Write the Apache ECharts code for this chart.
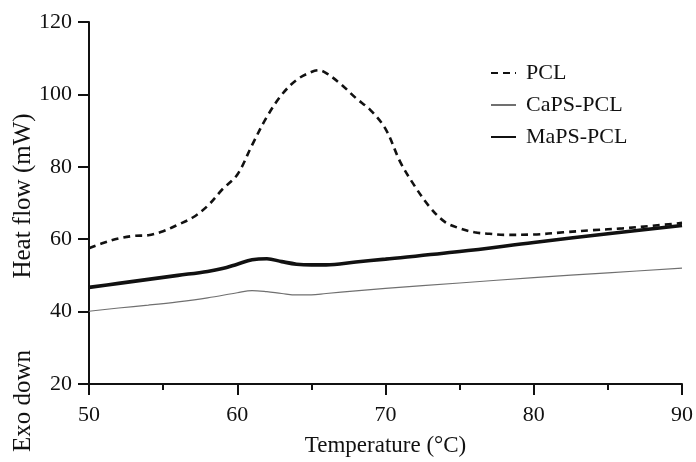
<!DOCTYPE html>
<html>
<head>
<meta charset="utf-8">
<script src="https://cdn.jsdelivr.net/npm/echarts@6/dist/echarts.min.js"></script>
<style>
  html, body { margin: 0; padding: 0; background: #ffffff; }
  #chart { width: 696px; height: 462px; }
</style>
</head>
<body>
<div id="chart"></div>
<script>
// DSC heating curves: heat flow (mW) against temperature (°C)
const pclTemp = [50, 51, 52, 53, 54, 55, 56, 57, 58, 59, 60, 61, 62, 63, 64, 65, 65.5, 66, 67, 68, 69, 70, 71, 72, 73, 74, 75, 76, 77, 78, 80, 82, 84, 86, 88, 90];
const pclFlow = [57.5, 59.0, 60.2, 60.9, 61.1, 62.2, 64.0, 66.0, 69.2, 73.8, 77.8, 86.0, 93.8, 99.9, 104.0, 106.2, 106.7, 105.9, 102.8, 99.0, 95.6, 90.5, 81.3, 74.5, 68.8, 64.8, 63.0, 61.9, 61.5, 61.2, 61.3, 61.9, 62.5, 63.0, 63.7, 64.5];

const capsTemp = [50, 52, 54, 56, 58, 60, 61, 62, 63, 64, 65, 66, 68, 70, 75, 80, 85, 90];
const capsFlow = [40.1, 41.0, 41.8, 42.7, 43.8, 45.2, 45.8, 45.5, 45.0, 44.6, 44.6, 45.0, 45.7, 46.4, 47.9, 49.4, 50.7, 52.0];

const mapsTemp = [50, 52, 54, 56, 58, 59, 60, 61, 62, 63, 64, 65, 66, 68, 70, 75, 80, 85, 90];
const mapsFlow = [46.7, 47.8, 48.9, 50.0, 51.1, 51.9, 53.1, 54.3, 54.6, 53.8, 53.1, 52.9, 52.9, 53.7, 54.5, 56.6, 59.1, 61.5, 63.8];

const seriesNames = ['PCL', 'CaPS-PCL', 'MaPS-PCL'];
const xTicks = { min: 50, max: 90, step: 10 };
const yTicks = { min: 20, max: 120, step: 20 };

const pairs = (xs, ys) => xs.map((x, i) => [x, ys[i]]);

const FONT = 'Liberation Serif';
const INK = '#111111';

const axisCommon = {
  axisLine: { show: true, lineStyle: { color: INK, width: 2 } },
  axisTick: { show: true, inside: false, length: 11, lineStyle: { color: INK, width: 2 } },
  splitLine: { show: false },
  axisLabel: { color: INK, fontFamily: FONT, fontSize: 22 }
};

const chart = echarts.init(document.getElementById('chart'), null, { renderer: 'canvas' });

chart.setOption({
  backgroundColor: '#ffffff',
  animation: false,
  grid: { left: 89, right: 13, top: 22, bottom: 74, containLabel: false },
  legend: {
    orient: 'vertical',
    left: 485,
    top: 57,
    itemWidth: 25,
    itemHeight: 14,
    itemGap: 10,
    data: seriesNames,
    // line-only keys: hide the marker dot
    itemStyle: { opacity: 0 },
    textStyle: { color: INK, fontFamily: FONT, fontSize: 22, padding: [0, 0, 0, 5] }
  },
  xAxis: Object.assign({}, axisCommon, {
    type: 'value',
    min: xTicks.min,
    max: xTicks.max,
    interval: xTicks.step,
    minorTick: { show: true, splitNumber: 2, length: 6, lineStyle: { color: INK, width: 2 } },
    axisLabel: Object.assign({}, axisCommon.axisLabel, { margin: 20 }),
    name: 'Temperature (°C)',
    nameLocation: 'middle',
    nameGap: 50,
    nameTextStyle: { color: INK, fontFamily: FONT, fontSize: 23 }
  }),
  yAxis: Object.assign({}, axisCommon, {
    type: 'value',
    min: yTicks.min,
    max: yTicks.max,
    interval: yTicks.step,
    axisLabel: Object.assign({}, axisCommon.axisLabel, { margin: 17 })
  }),
  graphic: [
    {
      type: 'text', x: 23, y: 196, rotation: Math.PI / 2,
      style: { text: 'Heat flow (mW)', fill: INK, font: '25px "Liberation Serif"', textAlign: 'center', textVerticalAlign: 'middle' }
    },
    {
      type: 'text', x: 23, y: 401, rotation: Math.PI / 2,
      style: { text: 'Exo down', fill: INK, font: '25px "Liberation Serif"', textAlign: 'center', textVerticalAlign: 'middle' }
    }
  ],
  series: [
    {
      name: seriesNames[0], type: 'line', smooth: 0.35, showSymbol: false, symbol: 'none',
      data: pairs(pclTemp, pclFlow),
      lineStyle: { color: INK, width: 2.6, type: [7, 5] },
      itemStyle: { color: INK },
      z: 3
    },
    {
      name: seriesNames[1], type: 'line', smooth: 0.35, showSymbol: false, symbol: 'none',
      data: pairs(capsTemp, capsFlow),
      lineStyle: { color: '#707070', width: 1.2 },
      itemStyle: { color: '#707070' },
      z: 2
    },
    {
      name: seriesNames[2], type: 'line', smooth: 0.35, showSymbol: false, symbol: 'none',
      data: pairs(mapsTemp, mapsFlow),
      lineStyle: { color: INK, width: 3.6 },
      itemStyle: { color: INK },
      z: 2
    }
  ]
});
</script>
</body>
</html>
